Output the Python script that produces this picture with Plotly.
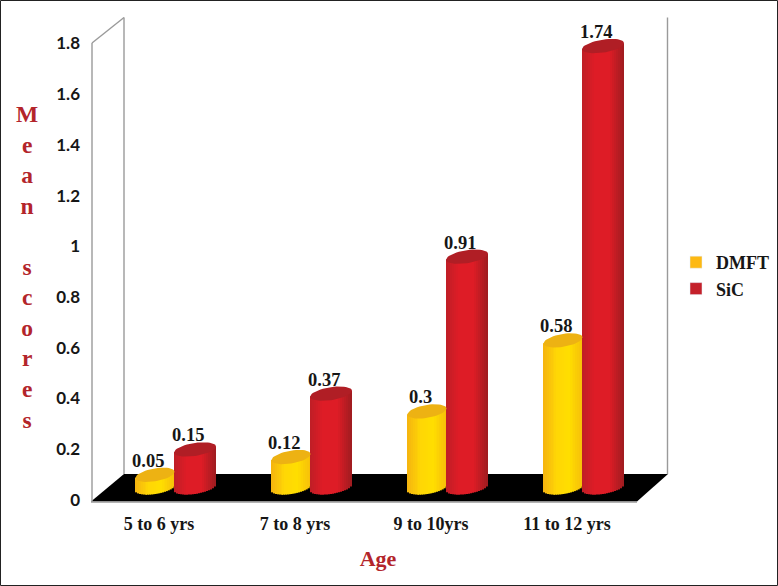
import numpy as np
import plotly.graph_objects as go

categories = ["5 to 6 yrs", "7 to 8 yrs", "9 to 10yrs", "11 to 12 yrs"]
dmft = [0.05, 0.12, 0.3, 0.58]
sic = [0.15, 0.37, 0.91, 1.74]
dmft_labels = ["0.05", "0.12", "0.3", "0.58"]
sic_labels = ["0.15", "0.37", "0.91", "1.74"]
y_ticks = [0, 0.2, 0.4, 0.6, 0.8, 1, 1.2, 1.4, 1.6, 1.8]

W, H = 778, 586
L, R, T, B = 92, 664, 18, 500
XS = 136.0
YS = (B - T) / 1.9
x0_px = 159
xr = [(L - x0_px) / XS, (R - x0_px) / XS]
xr2 = [xr[0] - 16 / XS, xr[1] - 16 / XS]
yr = [0, 1.9]
yr2 = [-12.5 / YS, 1.9 - 12.5 / YS]

SERIF = "Liberation Serif"
RED_T = "#B3252B"
INK = "#161616"
N = 21
TILT, ELL = 3.0, 6.5


def gradient(stops, t):
    ts = [s[0] for s in stops]
    rgb = [np.interp(t, ts, [s[1][i] for s in stops]) for i in range(3)]
    return "rgb(%d,%d,%d)" % tuple(int(round(c)) for c in rgb)


YEL = [(0, (245, 180, 15)), (0.35, (255, 215, 5)), (0.65, (255, 222, 0)), (1, (246, 190, 10))]
REDS = [(0, (190, 30, 38)), (0.3, (222, 28, 38)), (0.65, (222, 28, 38)), (1, (158, 28, 32))]


def cylinder(values, centre_px, half_px, stops, name):
    xs, ys, bases, cols = [], [], [], []
    edges = np.linspace(-1, 1, N + 1)
    mids = (edges[:-1] + edges[1:]) / 2
    for i, v in enumerate(values):
        for u in mids:
            lower = (TILT * u - ELL * np.sqrt(max(1 - u * u, 0))) / YS
            top = TILT * u / YS
            xs.append(i + (centre_px + u * half_px) / XS)
            bases.append(lower)
            ys.append(v + top - lower)
            cols.append(gradient(stops, (u + 1) / 2))
    return go.Bar(x=xs, y=ys, base=bases, width=2 * half_px / N / XS, xaxis="x2", yaxis="y2",
                  marker=dict(color=cols, line=dict(width=0)), name=name, showlegend=False,
                  legendgroup=name, hoverinfo="skip", cliponaxis=False)


def tops(values, centre_px, half_px, color, name):
    xs, ys = [], []
    t = np.linspace(0, 2 * np.pi, 49)
    for i, v in enumerate(values):
        xs += list(i + (centre_px + half_px * np.cos(t)) / XS) + [None]
        ys += list(v + (ELL * np.sin(t) + TILT * np.cos(t)) / YS) + [None]
    return go.Scatter(x=xs, y=ys, xaxis="x2", yaxis="y2", mode="lines", fill="toself", fillcolor=color,
                      line=dict(width=0, color=color), showlegend=False, legendgroup=name,
                      hoverinfo="skip", name=name)


fig = go.Figure()
# Invisible-on-plot trace keeps the front axis (ticks + title) active
fig.add_trace(go.Scatter(x=[0, 1, 2, 3], y=[None] * 4, showlegend=False, hoverinfo="skip"))
fig.add_trace(cylinder(dmft, -19.5, 20, YEL, "DMFT"))
fig.add_trace(cylinder(sic, 20, 21, REDS, "SiC"))
fig.add_trace(tops(dmft, -20, 19.5, "#EDB213", "DMFT"))
fig.add_trace(tops(sic, 20, 21, "#B01E25", "SiC"))
fig.add_trace(go.Bar(x=[None], y=[None], name="DMFT", legendgroup="DMFT", marker_color="#FDB913"))
fig.add_trace(go.Bar(x=[None], y=[None], name="SiC", legendgroup="SiC", marker_color="#C4202A"))

annotations = []
for vals, labs, c in ((dmft, dmft_labels, -19.5), (sic, sic_labels, 20)):
    for i, (v, s) in enumerate(zip(vals, labs)):
        annotations.append(dict(x=i + c / XS, y=v, xref="x2", yref="y2", text=s, showarrow=False,
                                xshift=-7.5, yshift=14,
                                font=dict(family=SERIF, size=18.5, color=INK, weight=700)))
annotations.append(dict(x=(27 - L) / (R - L), y=(B - 267) / (B - T), xref="paper", yref="paper",
                        xanchor="center", yanchor="middle",
                        text="M<br>e<br>a<br>n<br><br>s<br>c<br>o<br>r<br>e<br>s", showarrow=False,
                        align="center", font=dict(family=SERIF, size=23.5, color=RED_T, weight=700)))


def px(x):
    return (x - L) / (R - L)


def py(y):
    return (B - y) / (B - T)


def paper_path(points):
    return "M " + " L ".join(f"{px(a):.4f},{py(b):.4f}" for a, b in points) + " Z"


GREY = "#9A9A9A"
shapes = [
    dict(type="path", xref="paper", yref="paper", layer="below", fillcolor="black", line=dict(width=0),
         path=paper_path([(91, 501.5), (637, 501.5), (668, 474), (124, 474)])),
]
for a, b, c, d in [(92, 43, 92, 501.5), (92, 43, 124, 17.5), (124, 17.5, 124, 474),
                   (667.5, 17.5, 667.5, 474), (91, 502, 637, 502)]:
    shapes.append(dict(type="line", xref="paper", yref="paper", layer="below",
                       x0=px(a), y0=py(b), x1=px(c), y1=py(d), line=dict(color=GREY, width=1.4)))
shapes.append(dict(type="rect", xref="paper", yref="paper", x0=px(0.5), y0=py(0.5), x1=px(777.5), y1=py(585.5),
                   line=dict(color="#222222", width=1), layer="above"))

fig.update_layout(
    width=W, height=H, autosize=False, paper_bgcolor="white", plot_bgcolor="rgba(0,0,0,0)",
    margin=dict(l=L, r=W - R, t=T, b=H - B, pad=0),
    barmode="overlay",
    xaxis=dict(range=xr, tickmode="array", tickvals=[0, 1, 2, 3], ticktext=categories, showgrid=False,
               zeroline=False, showline=False, ticks="", ticklabelstandoff=11,
               tickfont=dict(family=SERIF, size=18, color=INK, weight=700),
               title=dict(text="Age", standoff=17, font=dict(family=SERIF, size=22, color=RED_T, weight=700))),
    yaxis=dict(range=yr, tickmode="array", tickvals=y_ticks, ticktext=[str(v) for v in y_ticks], showgrid=False,
               zeroline=False, showline=False, ticks="", ticklabelstandoff=11,
               tickfont=dict(family="Lato", size=17, color=INK, weight=700)),
    xaxis2=dict(range=xr2, overlaying="x", visible=False),
    yaxis2=dict(range=yr2, overlaying="y", visible=False),
    legend=dict(xref="container", yref="container", x=676 / W, y=1 - 244 / H, xanchor="left", yanchor="top",
                bgcolor="rgba(0,0,0,0)",
                font=dict(family=SERIF, size=18, color=INK, weight=700), tracegroupgap=0,
                itemclick=False, itemdoubleclick=False),
    annotations=annotations, shapes=shapes,
)
fig.write_html("out.html", post_script="document.body.style.margin='0';",
               config=dict(displayModeBar=False))
